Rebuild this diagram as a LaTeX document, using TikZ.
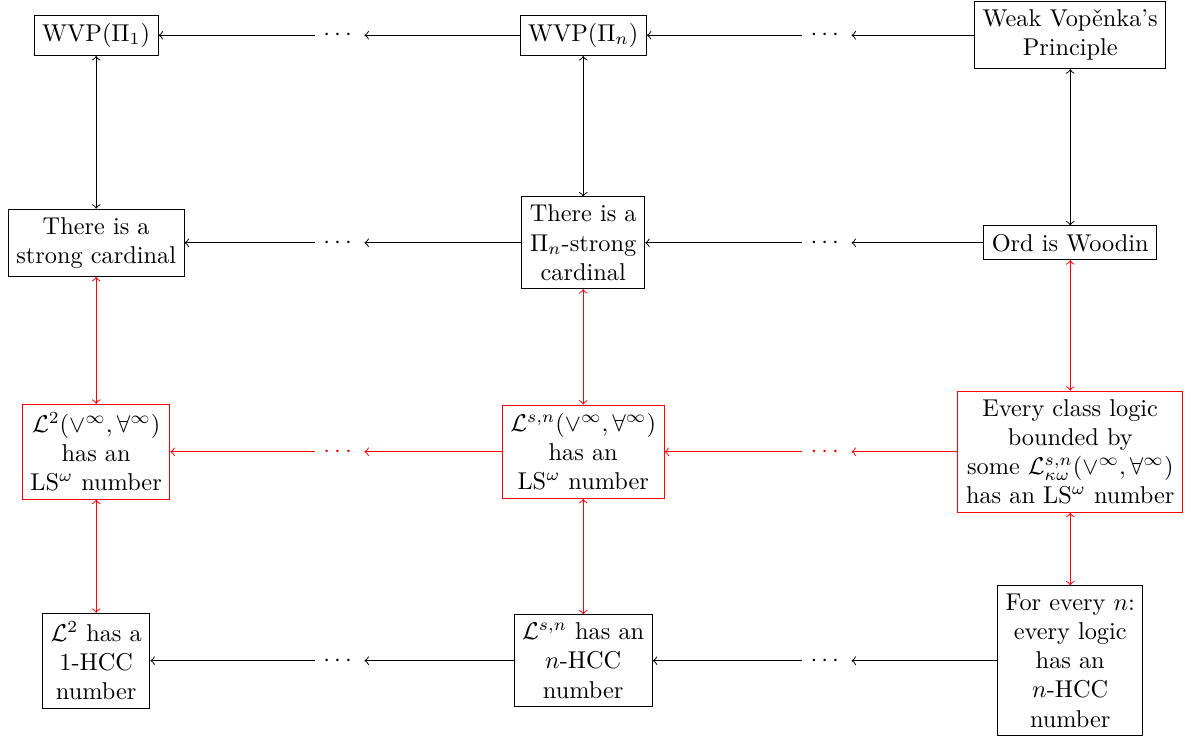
\documentclass[tikz,border=0pt]{standalone}
\usepackage{amsmath,amssymb}
\usepackage{xcolor}
\usepackage{tikz}

\tikzset{
  stmt/.style={draw, align=center},
  redstmt/.style={draw=red, align=center},
}

\begin{document}
\begin{tikzpicture}
  \useasboundingbox (0,0) rectangle (17.23,10.69);

  % top row
  \node [stmt] (W1) at (1.39,10.18) {WVP$(\Pi_1)$};
  \node [right of=W1, node distance=3.52cm] (D1) {$\cdots$};
  \node [stmt, right of=D1, node distance=3.52cm] (Wn) {WVP$(\Pi_n)$};
  \node [right of=Wn, node distance=3.52cm] (D2) {$\cdots$};
  \node [stmt, right of=D2, node distance=3.52cm] (WV) {Weak Vop\v{e}nka's\\ Principle};

  % strong cardinals
  \node [stmt, below of=W1, node distance=3.0cm] (S1) {There is a\\ strong cardinal};
  \node [right of=S1, node distance=3.52cm] (D3) {$\cdots$};
  \node [stmt, right of=D3, node distance=3.52cm] (Sn) {There is a\\ $\Pi_n$-strong\\ cardinal};
  \node [right of=Sn, node distance=3.52cm] (D4) {$\cdots$};
  \node [stmt, right of=D4, node distance=3.52cm] (OW) {Ord is Woodin};

  % LS numbers
  \node [redstmt, below of=S1, node distance=3.02cm] (L1) {$\mathcal{L}^2(\vee^\infty,\forall^\infty)$\\ has an\\ LS$^\omega$ number};
  \node [red, right of=L1, node distance=3.52cm] (D5) {$\cdots$};
  \node [redstmt, right of=D5, node distance=3.52cm] (Ln) {$\mathcal{L}^{s,n}(\vee^\infty,\forall^\infty)$\\ has an\\ LS$^\omega$ number};
  \node [red, right of=Ln, node distance=3.52cm] (D6) {$\cdots$};
  \node [redstmt, right of=D6, node distance=3.52cm] (LK) {Every class logic\\ bounded by\\ some $\mathcal{L}^{s,n}_{\kappa\omega}(\vee^\infty,\forall^\infty)$\\ has an LS$^\omega$ number};

  % HCC numbers
  \node [stmt, below of=L1, node distance=3.02cm] (H1) {$\mathcal{L}^2$ has a\\ 1-HCC\\ number};
  \node [right of=H1, node distance=3.52cm] (D7) {$\cdots$};
  \node [stmt, right of=D7, node distance=3.52cm] (Hn) {$\mathcal{L}^{s,n}$ has an\\ $n$-HCC\\ number};
  \node [right of=Hn, node distance=3.52cm] (D8) {$\cdots$};
  \node [stmt, right of=D8, node distance=3.52cm] (HA) {For every $n$:\\ every logic\\ has an\\ $n$-HCC\\ number};

  \draw [->] (WV) -- (D2);
  \draw [->] (D2) -- (Wn);
  \draw [->] (Wn) -- (D1);
  \draw [->] (D1) -- (W1);

  \draw [->] (OW) -- (D4);
  \draw [->] (D4) -- (Sn);
  \draw [->] (Sn) -- (D3);
  \draw [->] (D3) -- (S1);

  \draw [->,red] (LK) -- (D6);
  \draw [->,red] (D6) -- (Ln);
  \draw [->,red] (Ln) -- (D5);
  \draw [->,red] (D5) -- (L1);

  \draw [->] (HA) -- (D8);
  \draw [->] (D8) -- (Hn);
  \draw [->] (Hn) -- (D7);
  \draw [->] (D7) -- (H1);

  \draw [<->] (W1) -- (S1);
  \draw [<->] (Wn) -- (Sn);
  \draw [<->] (WV) -- (OW);
  \draw [<->,red] (S1) -- (L1);
  \draw [<->,red] (Sn) -- (Ln);
  \draw [<->,red] (OW) -- (LK);
  \draw [<->,red] (L1) -- (H1);
  \draw [<->,red] (Ln) -- (Hn);
  \draw [<->,red] (LK) -- (HA);
\end{tikzpicture}
\end{document}
